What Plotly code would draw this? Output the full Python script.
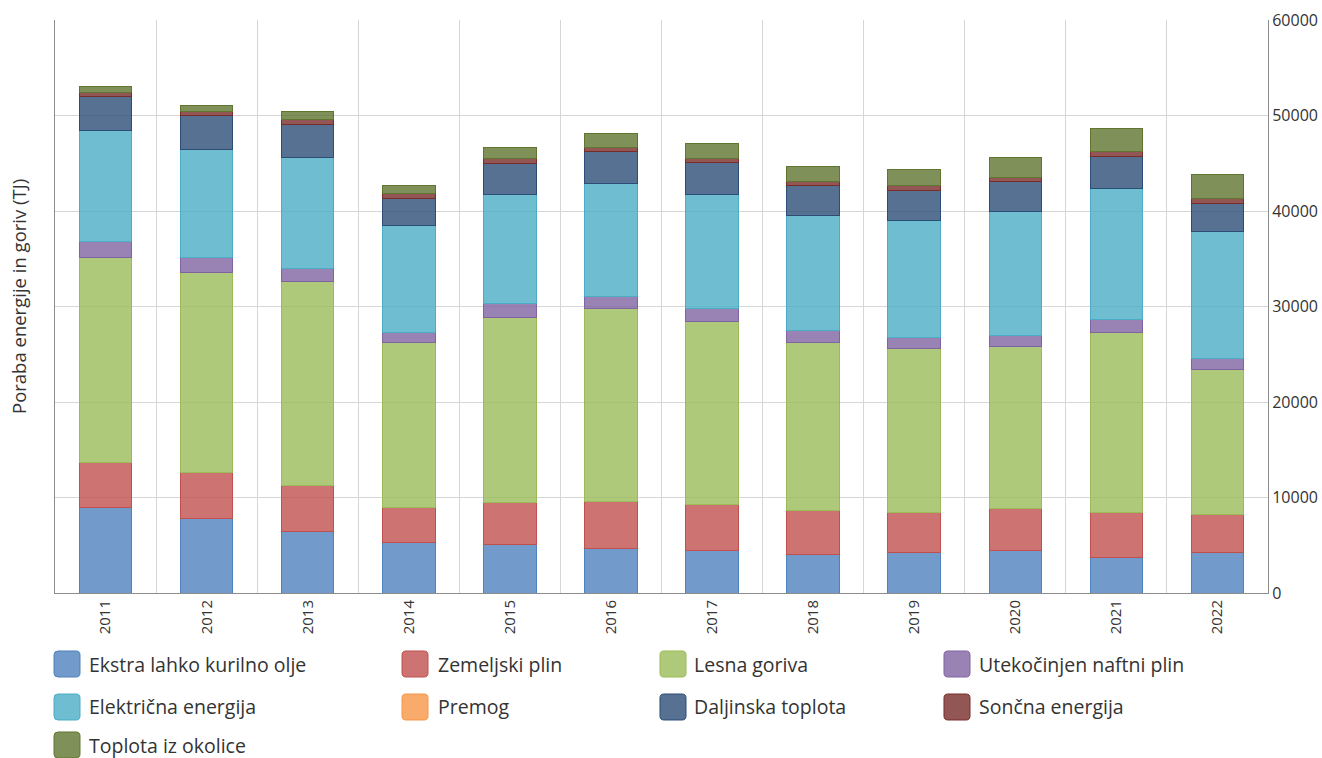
import plotly.graph_objects as go

years = ['2011', '2012', '2013', '2014', '2015', '2016', '2017', '2018', '2019', '2020', '2021', '2022']

ekstra = [9000, 7750, 6390, 5240, 5030, 4710, 4400, 4080, 4190, 4500, 3770, 4190]
zemeljski = [4710, 4920, 4820, 3670, 4400, 4820, 4820, 4610, 4290, 4400, 4610, 4080]
lesna = [21460, 20840, 21460, 17280, 19370, 20210, 19160, 17490, 17170, 16960, 18950, 15180]
utekocinjen = [1620, 1570, 1360, 1050, 1470, 1360, 1360, 1260, 1150, 1150, 1260, 1150]
elektricna = [11600, 11410, 11620, 11200, 11410, 11730, 11940, 12040, 12250, 12980, 13720, 13300]
premog = [0, 0, 0, 0, 0, 0, 0, 0, 0, 0, 0, 0]
daljinska = [3630, 3460, 3460, 2830, 3250, 3350, 3350, 3140, 3140, 3140, 3350, 2930]
soncna = [420, 420, 520, 520, 520, 420, 420, 520, 520, 420, 520, 520]
toplota = [630, 730, 840, 840, 1150, 1470, 1570, 1470, 1680, 2090, 2510, 2510]

series = [
    ('Ekstra lahko kurilno olje', ekstra, '79,129,189'),
    ('Zemeljski plin', zemeljski, '192,80,77'),
    ('Lesna goriva', lesna, '155,187,89'),
    ('Utekočinjen naftni plin', utekocinjen, '128,100,162'),
    ('Električna energija', elektricna, '75,172,198'),
    ('Premog', premog, '247,150,70'),
    ('Daljinska toplota', daljinska, '44,77,117'),
    ('Sončna energija', soncna, '119,44,42'),
    ('Toplota iz okolice', toplota, '95,117,48'),
]

FONT = 'Open Sans, Noto Sans, sans-serif'
TXT = '#333333'

# plot area in pixels
PL, PR, PT, PB = 55, 1268, 20, 593


def px_x(px):
    return (px - PL) / (PR - PL)


def px_y(py):
    return (PB - py) / (PB - PT)


def rounded_box(x0, y0, size, r=4):
    x1, y1 = x0 + size, y0 + size
    pts = [
        ('M', [(x0 + r, y0)]), ('L', [(x1 - r, y0)]), ('Q', [(x1, y0), (x1, y0 + r)]),
        ('L', [(x1, y1 - r)]), ('Q', [(x1, y1), (x1 - r, y1)]),
        ('L', [(x0 + r, y1)]), ('Q', [(x0, y1), (x0, y1 - r)]),
        ('L', [(x0, y0 + r)]), ('Q', [(x0, y0), (x0 + r, y0)]),
    ]
    out = ''
    for cmd, ps in pts:
        out += cmd + ' '.join('%.5f,%.5f' % (px_x(a), px_y(b)) for a, b in ps) + ' '
    return out + 'Z'


fig = go.Figure()
for name, vals, rgb in series:
    fig.add_trace(go.Bar(
        x=years, y=vals, name=name, width=0.52,
        marker=dict(color='rgba(%s,0.8)' % rgb, line=dict(color='rgb(%s)' % rgb, width=1)),
        showlegend=False,
    ))

# legend drawn by hand (4 columns)
col_box = [54, 402, 660, 944]
col_txt = [88, 437, 693, 978]
row_mid = [664, 707, 745]
shapes = []
annotations = []
for i, (name, vals, rgb) in enumerate(series):
    r, c = divmod(i, 4)
    shapes.append(dict(
        type='path', xref='paper', yref='paper',
        path=rounded_box(col_box[c], row_mid[r] - 13, 26),
        fillcolor='rgba(%s,0.8)' % rgb, line=dict(color='rgb(%s)' % rgb, width=1),
    ))
    annotations.append(dict(
        text=name, x=px_x(col_txt[c]), y=px_y(row_mid[r]), xref='paper', yref='paper',
        xanchor='left', yanchor='middle', showarrow=False, borderpad=0,
        font=dict(family=FONT, size=19.5, color=TXT),
    ))

annotations.append(dict(
    text='Poraba energije in goriv (TJ)', x=px_x(18), y=px_y(297), xref='paper', yref='paper',
    xanchor='center', yanchor='middle', textangle=-90, showarrow=False,
    font=dict(family=FONT, size=18.5, color=TXT),
))

fig.update_layout(
    barmode='stack',
    width=1322, height=758, autosize=False,
    margin=dict(l=PL, r=1322 - PR, t=PT, b=758 - PB),
    plot_bgcolor='white', paper_bgcolor='white',
    font=dict(family=FONT, color=TXT),
    shapes=shapes, annotations=annotations,
    xaxis=dict(
        type='category', tickson='boundaries', showgrid=True, gridcolor='#d6d6d6', gridwidth=1,
        showline=True, linecolor='#8c8c8c', linewidth=1, ticks='', automargin=False,
        tickangle=-90, tickfont=dict(size=15, color=TXT),
    ),
    yaxis=dict(
        side='right', range=[0, 60000], dtick=10000, showgrid=True, gridcolor='#d6d6d6',
        showline=True, mirror=True, linecolor='#8c8c8c', linewidth=1, ticks='', automargin=False,
        tickformat='d', tickfont=dict(size=16, color=TXT), zeroline=False,
    ),
)

fig.write_html('out.html', config={'displayModeBar': False},
               post_script="document.body.style.margin='0';")
